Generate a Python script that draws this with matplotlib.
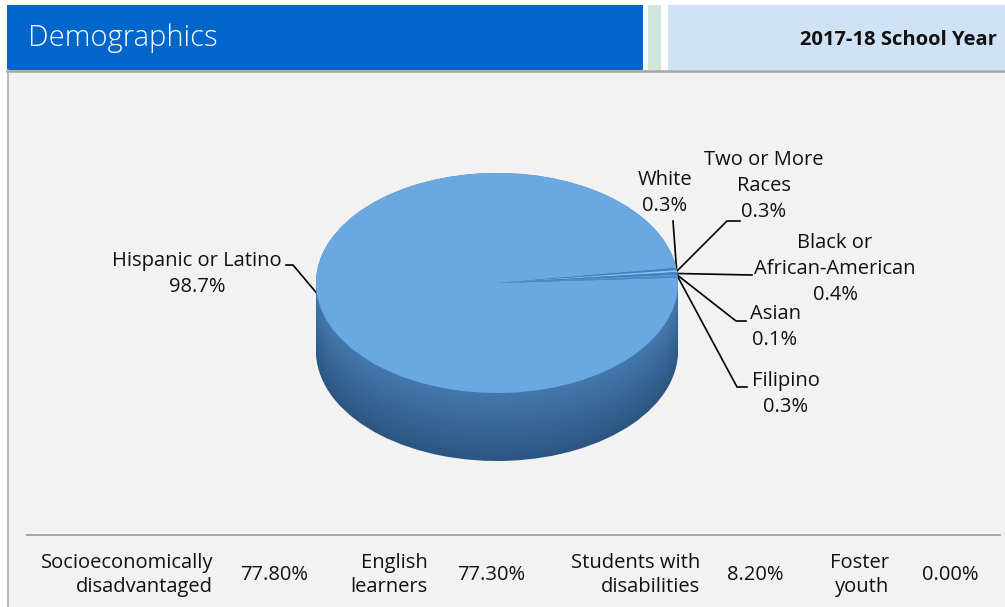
import matplotlib
matplotlib.use("Agg")
import matplotlib.pyplot as plt
from matplotlib.patches import Rectangle
from matplotlib.colors import to_rgb
import numpy as np

plt.rcParams['font.family'] = ['Open Sans', 'DejaVu Sans']

# pie data (2017-18 enrollment by group)
groups = ["Hispanic or Latino", "White", "Two or More\nRaces",
          "Black or\nAfrican-American", "Asian", "Filipino"]
shares = [98.7, 0.3, 0.3, 0.4, 0.1, 0.3]

# bottom row stats
stat_names = ["Socioeconomically\ndisadvantaged", "English\nlearners",
              "Students with\ndisabilities", "Foster\nyouth"]
stat_values = ["77.80%", "77.30%", "8.20%", "0.00%"]

W, H = 1005, 607
fig = plt.figure(figsize=(W / 100, H / 100), dpi=100)
fig.patch.set_facecolor("white")

# background axes in pixel units
bg = fig.add_axes([0, 0, 1, 1])
bg.set_xlim(0, W)
bg.set_ylim(H, 0)
bg.axis("off")

# header
bg.add_patch(Rectangle((7, 5), 636, 65, color="#0066cc", lw=0))
bg.add_patch(Rectangle((648, 5), 13, 65, color="#cfe6dc", lw=0))
bg.add_patch(Rectangle((668, 5), 337, 65, color="#cfe2f6", lw=0))
bg.text(28, 38, "Demographics", color="white", fontsize=21, fontweight="light",
        va="center", ha="left")
bg.text(997, 40, "2017-18 School Year", color="#111111", fontsize=14.5,
        fontweight="bold", va="center", ha="right")

# body panel
bg.add_patch(Rectangle((7, 70), W - 7, H - 70, facecolor="#f2f2f2", lw=0))
bg.plot([7, W], [70.5, 70.5], color="#a6a6a6", lw=1.8)
bg.plot([7.5, 7.5], [70, H], color="#b0b0b0", lw=1.2)
bg.plot([27, 1000], [535, 535], color="#a0a0a0", lw=1.3)

# pie axes: squashed so the circle becomes an ellipse, with a side wall
cx, cy, rx, ry, depth = 497, 283, 181, 110, 68
left, right = cx - rx, cx + rx
top, bottom = cy - ry, cy + ry + depth
pax = fig.add_axes([left / W, 1 - bottom / H, (right - left) / W, (bottom - top) / H])
d = depth / ry

start = 2.8
layers = np.linspace(d, 0, 30)
c_low, c_high = np.array(to_rgb("#2b5682")), np.array(to_rgb("#4478ad"))
for k, yoff in enumerate(layers):
    f = k / (len(layers) - 1)
    col = c_low * (1 - f) + c_high * f
    pax.pie(shares, radius=1, center=(0, -yoff), startangle=start, counterclock=False,
            colors=[col] * len(shares), wedgeprops=dict(lw=0))

slice_cols = ["#69a8e0", "#3f80c6", "#8cc0ec", "#3f80c6", "#8cc0ec", "#4a8bcc"]
wedges, _ = pax.pie(shares, radius=1, center=(0, 0), startangle=start,
                    counterclock=False, colors=slice_cols, wedgeprops=dict(lw=0))
pax.set_aspect("auto")
pax.set_xlim(-1, 1)
pax.set_ylim(-1 - d, 1)
pax.axis("off")

# anchors on the rim for leader lines, in background pixel coords
inv = bg.transData.inverted()
anchors = []
for w in wedges:
    mid = np.deg2rad((w.theta1 + w.theta2) / 2)
    p = pax.transData.transform((np.cos(mid), np.sin(mid)))
    anchors.append(inv.transform(p))

lab_size = 14.5
txt = [f"{g}\n{v}%" for g, v in zip(groups, shares)]
# label text positions and elbow points (pixel layout)
lab_pos = [(197, 274), (665, 193), (764, 186), (835, 269), (775, 327), (786, 394)]
elbows = [[(286, 265), (293, 265)],
          [(673, 221)],
          [(740, 221), (727, 221)],
          [(752, 275)],
          [(746, 321), (736, 321)],
          [(747, 387), (737, 387)]]
for t, (tx, ty), el, a in zip(txt, lab_pos, elbows, anchors):
    bg.text(tx, ty, t, fontsize=lab_size, ha="center", va="center",
            color="#111111", linespacing=1.42)
    xs = [p[0] for p in el] + [a[0]]
    ys = [p[1] for p in el] + [a[1]]
    bg.plot(xs, ys, color="black", lw=1.2)

# bottom stats row
name_right = [213, 428, 700, 889]
val_left = [240, 457, 727, 922]
for n, v, nx, vx in zip(stat_names, stat_values, name_right, val_left):
    bg.text(nx, 575, n, fontsize=14.5, ha="right", va="center", color="#111111",
            linespacing=1.25)
    bg.text(vx, 575, v, fontsize=14.5, ha="left", va="center", color="#111111")

fig.savefig("out.png", dpi=100)
